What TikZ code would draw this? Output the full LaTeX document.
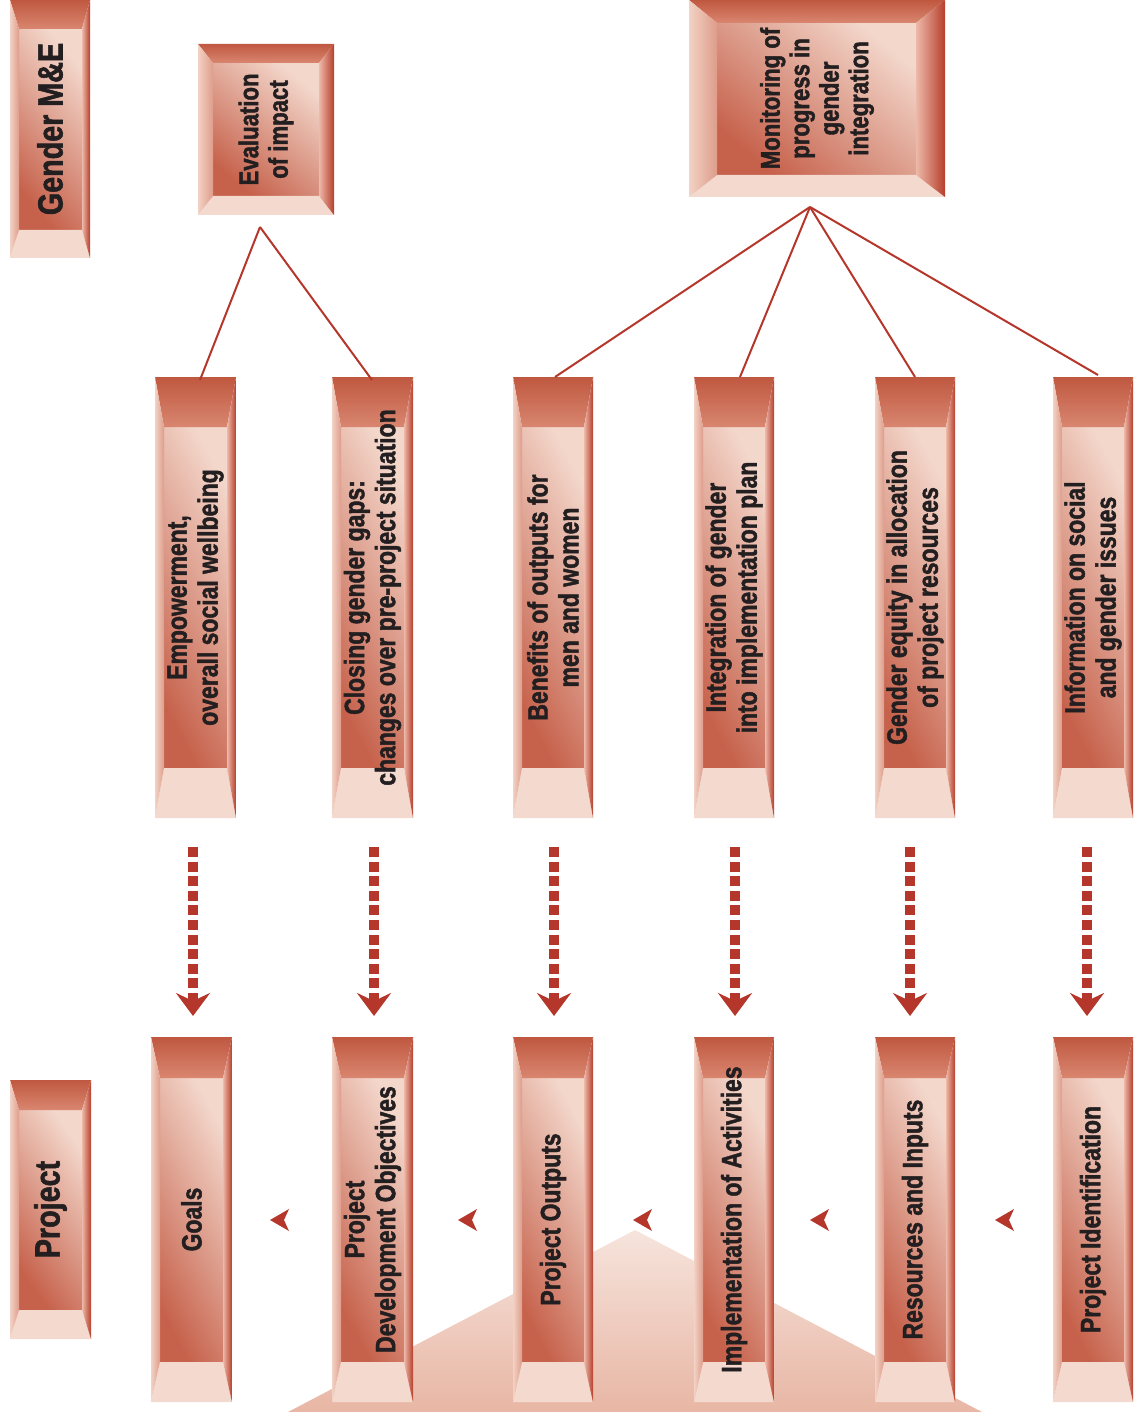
\documentclass[tikz,border=0pt]{standalone}
\usepackage{fontspec}
\setmainfont{Liberation Sans}[FakeStretch=0.82, BoldFeatures={FakeBold=1.6}]
\usetikzlibrary{arrows.meta,calc}
\definecolor{bevtop}{HTML}{C05840}
\definecolor{bevtopin}{HTML}{D98670}
\definecolor{bevlo}{HTML}{F2D2C5}
\definecolor{bevli}{HTML}{DE9C8A}
\definecolor{bevri}{HTML}{EDB9A9}
\definecolor{bevro}{HTML}{B63F2C}
\definecolor{bevbot}{HTML}{F3D9CE}
\definecolor{indark}{HTML}{C6614B}
\definecolor{inlight}{HTML}{F3D7CB}
\definecolor{linkred}{HTML}{B5362A}
\definecolor{txt}{HTML}{231F20}
\definecolor{trilight}{HTML}{F6E4DC}
\definecolor{tridark}{HTML}{E8B6A4}
\def\inang{-62}
\tikzset{
  boxframe/.style={draw=none, fill=none, inner sep=0pt, outer sep=0pt, rectangle},
  topbev/.style={top color=bevtop, bottom color=bevtopin},
  botbev/.style={fill=bevbot},
  leftbev/.style={left color=bevlo, right color=bevli},
  rightbev/.style={left color=bevri, right color=bevro},
  innerface/.style={top color=inlight, bottom color=indark, shading angle=\inang},
  lbl/.style={rotate=90, align=center, text=txt, inner sep=0pt, font=\fontsize{28}{31}\selectfont\bfseries},
  biglbl/.style={lbl, font=\fontsize{35}{38}\selectfont\bfseries},
  toplbl/.style={lbl, font=\fontsize{27}{29.5}\selectfont\bfseries},
  link/.style={draw=linkred, line width=2pt},
  dasharr/.style={draw=linkred, line width=10pt, dash pattern=on 10pt off 4.6pt,
     -{Stealth[length=23pt,width=34pt,inset=8pt]}},
  smallarr/.style={fill=linkred, draw=none},
  trifill/.style={top color=trilight, bottom color=tridark, draw=none}
}
\newcommand\bevbox[9]{%
  \node[boxframe, minimum width={(#4)-(#2)}, minimum height={(#5)-(#3)}] (#1) at ({((#2)+(#4))/2},{((#3)+(#5))/2}) {};
  \coordinate (#1-a) at ({#2+#6},{#3+#8});
  \coordinate (#1-b) at ({#4-#7},{#3+#8});
  \coordinate (#1-c) at ({#4-#7},{#5-#9});
  \coordinate (#1-d) at ({#2+#6},{#5-#9});
  \shade[innerface] (#1-a) rectangle (#1-c);
  \shade[topbev] (#1.north west) -- (#1.north east) -- (#1-b) -- (#1-a) -- cycle;
  \fill[botbev] (#1.south west) -- (#1.south east) -- (#1-c) -- (#1-d) -- cycle;
  \shade[leftbev] (#1.north west) -- (#1-a) -- (#1-d) -- (#1.south west) -- cycle;
  \shade[rightbev] (#1.north east) -- (#1-b) -- (#1-c) -- (#1.south east) -- cycle;
}
\newcommand\leftarrowtip[1]{%
  \fill[smallarr] (#1) -- ++(19,-11) -- ++(-5,11) -- ++(5,11) -- cycle;
}
\begin{document}
\begin{tikzpicture}[x=1pt,y=-1pt]
\useasboundingbox (0,0) rectangle (1133,1412);
% background triangle
\coordinate (triapex) at (635,1230);
\coordinate (trileft) at (288,1412);
\coordinate (triright) at (982,1412);
\shade[trifill] (triapex) -- (triright) -- (trileft) -- cycle;
% top boxes
\def\inang{-50}
\bevbox{gme}{10}{0}{90}{258}{9}{8}{29}{28}
\node[biglbl] (gmet) at (gme) {Gender M\&E};
\def\inang{-40}
\bevbox{ev}{198}{44}{334}{215}{15}{15}{19}{19}
\node[toplbl] (evt) at (ev) {Evaluation\\of impact};
\bevbox{mon}{689}{0}{945}{197}{28}{29}{23}{22}
\node[toplbl] (mont) at (mon) {Monitoring of\\progress in\\gender\\integration};
% middle row
\def\inang{-62}
\bevbox{emp}{155}{377}{236}{818}{9}{9}{50}{50}
\node[lbl] (empt) at (emp) {Empowerment,\\overall social wellbeing};
\bevbox{clo}{332}{377}{413}{818}{9}{9}{50}{50}
\node[lbl] (clot) at (clo) {Closing gender gaps:\\changes over pre-project situation};
\bevbox{ben}{513}{377}{593}{818}{9}{9}{50}{50}
\node[lbl] (bent) at (ben) {Benefits of outputs for\\men and women};
\bevbox{intg}{694}{377}{774}{818}{9}{9}{50}{50}
\node[lbl] (intgt) at (intg) {Integration of gender\\into implementation plan};
\bevbox{equ}{875}{377}{955}{818}{9}{9}{50}{50}
\node[lbl] (equt) at (equ) {Gender equity in allocation\\of project resources};
\bevbox{inf}{1053}{377}{1133}{818}{9}{9}{50}{50}
\node[lbl] (inft) at (inf) {Information on social\\and gender issues};
% bottom row
\def\inang{-55}
\bevbox{proj}{10}{1080}{91}{1339}{9}{9}{30}{29}
\node[biglbl] (projt) at (proj) {Project};
\def\inang{-62}
\bevbox{goals}{151}{1037}{232}{1402}{9}{9}{41}{40}
\node[lbl] (goalst) at (goals) {Goals};
\bevbox{pdo}{332}{1037}{413}{1402}{9}{9}{41}{40}
\node[lbl] (pdot) at (pdo) {Project\\Development Objectives};
\bevbox{outp}{513}{1037}{593}{1402}{9}{9}{41}{40}
\node[lbl] (outpt) at (outp) {Project Outputs};
\bevbox{impl}{694}{1037}{774}{1402}{9}{9}{41}{40}
\node[lbl] (implt) at (impl) {Implementation of Activities};
\bevbox{res}{875}{1037}{955}{1402}{9}{9}{41}{40}
\node[lbl] (rest) at (res) {Resources and Inputs};
\bevbox{ident}{1053}{1037}{1133}{1402}{9}{9}{41}{40}
\node[lbl] (identt) at (ident) {Project Identification};
% connector lines
\coordinate (evtip) at ([shift={(-6,12)}]ev.south);
\coordinate (montip) at ([shift={(-7,10)}]mon.south);
\draw[link] (evtip) -- ([shift={(4.5,3)}]emp.north);
\draw[link] (evtip) -- ([shift={(-0.5,3)}]clo.north);
\draw[link] (montip) -- ([shift={(2,0)}]ben.north);
\draw[link] (montip) -- ([shift={(6,0)}]intg.north);
\draw[link] (montip) -- ([shift={(0,0)}]equ.north);
\draw[link] (montip) -- ([shift={(5,-2)}]inf.north);
% dashed arrows
\draw[dasharr] ([shift={(-2.5,29)}]emp.south) -- ([shift={(1.5,-21)}]goals.north);
\draw[dasharr] ([shift={(1.5,29)}]clo.south) -- ([shift={(1.5,-21)}]pdo.north);
\draw[dasharr] ([shift={(1,29)}]ben.south) -- ([shift={(1,-21)}]outp.north);
\draw[dasharr] ([shift={(1,29)}]intg.south) -- ([shift={(1,-21)}]impl.north);
\draw[dasharr] ([shift={(-5,29)}]equ.south) -- ([shift={(-5,-21)}]res.north);
\draw[dasharr] ([shift={(-6,29)}]inf.south) -- ([shift={(-6,-21)}]ident.north);
% small arrow tips between project stages
\coordinate (a1) at (270,1220);
\coordinate (a2) at (458,1220);
\coordinate (a3) at (633,1220);
\coordinate (a4) at (810,1220);
\coordinate (a5) at (995,1220);
\leftarrowtip{a1}
\leftarrowtip{a2}
\leftarrowtip{a3}
\leftarrowtip{a4}
\leftarrowtip{a5}
\end{tikzpicture}
\end{document}
